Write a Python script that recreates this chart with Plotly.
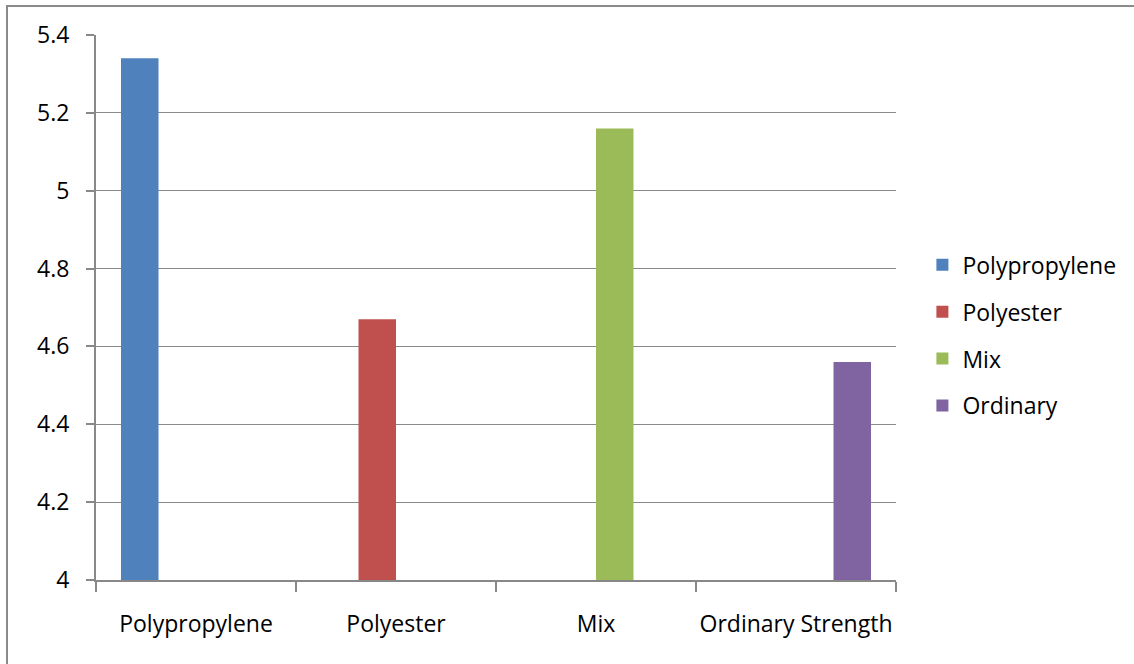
import plotly.graph_objects as go

categories = ["Polypropylene", "Polyester", "Mix", "Ordinary Strength"]
series_names = ["Polypropylene", "Polyester", "Mix", "Ordinary"]
series_values = [5.34, 4.67, 5.16, 4.56]
series_colors = ["#4F81BD", "#C0504D", "#9BBB59", "#8064A2"]
y_ticks = [4, 4.2, 4.4, 4.6, 4.8, 5, 5.2, 5.4]
y_tick_labels = ["4", "4.2", "4.4", "4.6", "4.8", "5", "5.2", "5.4"]

FONT = "Open Sans"
FS = 23
W, H = 1134, 664
L, R, T, B = 96, 238, 35, 84

fig = go.Figure()
for i, (name, val, col) in enumerate(zip(series_names, series_values, series_colors)):
    ys = [val if j == i else None for j in range(len(categories))]
    fig.add_trace(go.Bar(
        x=categories, y=ys, name=name, marker=dict(color=col, line=dict(width=0)),
        legendgroup=name,
    ))

fig.update_layout(
    width=W, height=H,
    margin=dict(l=L, r=R, t=T, b=B, autoexpand=False),
    paper_bgcolor="white", plot_bgcolor="white",
    barmode="group", bargap=0.25, bargroupgap=0,
    font=dict(family=FONT, size=FS, color="#000000"),
    showlegend=True,
    legend=dict(
        x=1.033, y=0.449, xanchor="left", yanchor="middle",
        font=dict(family=FONT, size=FS, color="#000000"),
        tracegroupgap=14, itemwidth=30,
        bgcolor="rgba(0,0,0,0)",
    ),
    xaxis=dict(
        type="category", tickson="boundaries", ticks="outside", ticklen=10,
        tickcolor="#888888", tickwidth=2, tickangle=0, automargin=False,
        showline=True, linecolor="#888888", linewidth=2,
        showgrid=False, tickfont=dict(family=FONT, size=FS, color="#000000"),
        ticklabelstandoff=22,
    ),
    yaxis=dict(
        range=[4, 5.4], tickvals=y_ticks, ticktext=y_tick_labels,
        ticks="outside", ticklen=8, tickcolor="#888888", tickwidth=2,
        showline=True, linecolor="#888888", linewidth=2, automargin=False,
        showgrid=True, gridcolor="#8A8A8A", gridwidth=1.3,
        zeroline=False, tickfont=dict(family=FONT, size=FS, color="#000000"),
        ticklabelstandoff=12,
    ),
)

# Chart frame
fig.add_shape(
    type="rect", xref="paper", yref="paper",
    x0=(7 - L) / 800, x1=(1145 - L) / 800,
    y0=(580 - 675) / 545, y1=(580 - 6) / 545,
    line=dict(color="#8A8A8A", width=2), fillcolor="rgba(0,0,0,0)", layer="below",
)

fig.write_html("out.html")
